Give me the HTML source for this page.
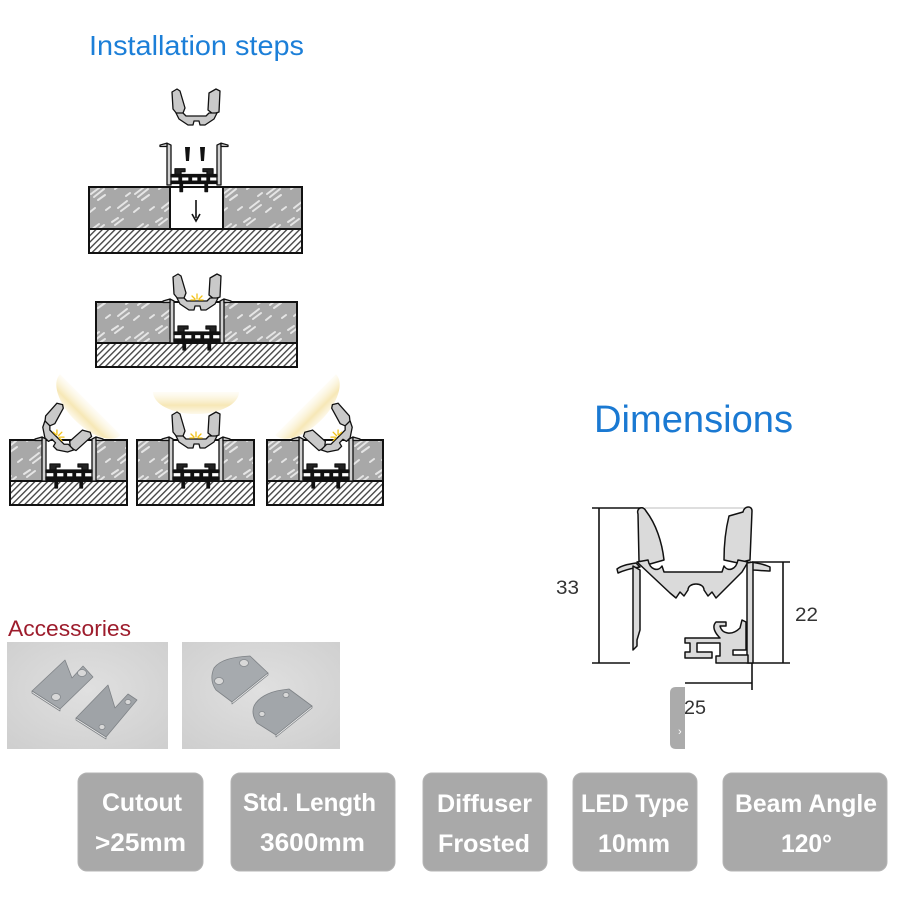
<!DOCTYPE html>
<html><head><meta charset="utf-8"><style>
html,body{margin:0;padding:0;background:#fff;}
svg{display:block;}
</style></head><body>
<svg width="900" height="900" viewBox="0 0 900 900" xmlns="http://www.w3.org/2000/svg" font-family="'Liberation Sans', Arial, sans-serif">
<defs>
 <pattern id="stone" width="44" height="36" patternUnits="userSpaceOnUse">
  <rect width="44" height="36" fill="#a8a8a8"/>
  <g stroke="#ececec" stroke-width="2" stroke-linecap="round" opacity="0.9">
   <path d="M3 14 l8 -6 M6 17 l10 -8 M10 20 l7 -5 M24 6 l6 -4 M27 9 l8 -6 M30 28 l9 -7 M33 31 l8 -6 M18 30 l4 -3 M38 16 l4 -3 M2 32 l5 -4"/>
  </g>
 </pattern>
 <pattern id="hatch" width="4.5" height="4.5" patternUnits="userSpaceOnUse" patternTransform="rotate(45)">
  <rect width="4.5" height="4.5" fill="#fff"/>
  <line x1="0.7" y1="0" x2="0.7" y2="4.5" stroke="#3a3a3a" stroke-width="1.3"/>
 </pattern>
 <linearGradient id="glowg" x1="0" y1="0" x2="0" y2="1">
  <stop offset="0" stop-color="#fbf3d6" stop-opacity="0.2"/>
  <stop offset="0.6" stop-color="#f6e6b2" stop-opacity="0.95"/>
  <stop offset="1" stop-color="#fdf8e8" stop-opacity="0.9"/>
 </linearGradient>
 <radialGradient id="photo" cx="0.5" cy="0.45" r="0.7">
  <stop offset="0" stop-color="#e0e0e0"/>
  <stop offset="1" stop-color="#cfcfcf"/>
 </radialGradient>

 <g id="hs" stroke="#111" stroke-width="1.3" stroke-linejoin="round">
  <path d="M0 -3 L0 41 L4 41 L4 -1 Z" fill="#d0d0d0"/>
  <path d="M54 -3 L54 41 L50 41 L50 -1 Z" fill="#d0d0d0"/>
  <path d="M0 -3 L-7 -1 L-7 0.5 L0 0.5 Z" fill="#d0d0d0"/>
  <path d="M54 -3 L61 -1 L61 0.5 L54 0.5 Z" fill="#d0d0d0"/>
  <path d="M8 30 L8 24 L18 24 L18 27 L14 27 L14 30 Z" fill="#222"/>
  <path d="M46 30 L46 24 L36 24 L36 27 L40 27 L40 30 Z" fill="#222"/>
  <rect x="4" y="30" width="46" height="2.5" fill="#111"/>
  <rect x="4" y="37" width="46" height="2.5" fill="#111"/>
  <rect x="12" y="32.5" width="2.5" height="4.5" fill="#111"/>
  <rect x="22" y="32.5" width="2.5" height="4.5" fill="#111"/>
  <rect x="31" y="32.5" width="2.5" height="4.5" fill="#111"/>
  <rect x="40" y="32.5" width="2.5" height="4.5" fill="#111"/>
  <rect x="13" y="40" width="2.5" height="8" fill="#111"/>
  <rect x="38" y="40" width="2.5" height="8" fill="#111"/>
 </g>
 <g id="df" stroke="#111" stroke-width="1.3" stroke-linejoin="round" fill="#c9c9c9">
  <path d="M3 -26 L8 -29 L11 -27 L16 -10 L14 -5 L8 -4 L4 -9 Z"/>
  <path d="M40 -25 L47 -29 L51 -27 L50 -6 L44 -4 L39 -8 Z"/>
  <path d="M7 -5 L14 -5 L17 -2 L37 -2 L40 -5 L48 -5 L45 1 L36 7 L31 7 L30 3 L25 3 L24 7 L19 7 L10 1 Z"/>
 </g>
 <g id="glow">
  <path d="M-16 -48 A43 22 0 0 0 70 -48 Z" fill="url(#glowg)"/>
 </g>
 <g id="star" stroke="#f2c21a" stroke-width="1.3" stroke-linecap="round">
  <path d="M27 -9 L27 -4 M22 -7 L25 -4 M32 -7 L29 -4 M21 -3 L25 -3 M33 -3 L29 -3"/>
 </g>
</defs>

<rect width="900" height="900" fill="#fff"/>

<text x="89" y="55" font-size="28" fill="#1c7fd8" textLength="215" lengthAdjust="spacingAndGlyphs">Installation steps</text>
<text x="594" y="432" font-size="38" fill="#1a79d2" textLength="199" lengthAdjust="spacingAndGlyphs">Dimensions</text>
<text x="8" y="636" font-size="22" fill="#9d1c2c" textLength="123" lengthAdjust="spacingAndGlyphs">Accessories</text>

<!-- STEP 1 -->
<rect x="89" y="187" width="213" height="42" fill="url(#stone)" stroke="#111" stroke-width="2"/>
<rect x="89" y="229" width="213" height="24" fill="url(#hatch)" stroke="#111" stroke-width="2"/>
<rect x="170" y="188" width="53" height="40" fill="#fff"/>
<line x1="170" y1="187" x2="170" y2="229" stroke="#111" stroke-width="2"/>
<line x1="223" y1="187" x2="223" y2="229" stroke="#111" stroke-width="2"/>
<line x1="196" y1="200" x2="196" y2="218" stroke="#111" stroke-width="1.6"/>
<path d="M192 214 L196 221 L200 214" fill="none" stroke="#111" stroke-width="1.6"/>
<g transform="translate(167,146) scale(1,0.95)"><use href="#hs"/></g>
<path d="M185 147 L190 147 L189 161 L186 161 Z M200 147 L205 147 L204 161 L201 161 Z" fill="#111"/>
<g transform="translate(169,118)"><use href="#df"/></g>

<!-- STEP 2 -->
<rect x="96" y="302" width="201" height="41" fill="url(#stone)" stroke="#111" stroke-width="2"/>
<rect x="96" y="343" width="201" height="24" fill="url(#hatch)" stroke="#111" stroke-width="2"/>
<rect x="170" y="303" width="53" height="39" fill="#fff"/>
<g transform="translate(170,302)"><use href="#hs"/></g>
<g transform="translate(170,303)"><use href="#df"/><use href="#star"/></g>

<!-- glows -->
<g transform="translate(43,440) rotate(45 22 -17)"><use href="#glow"/></g>
<g transform="translate(169,440)"><use href="#glow"/></g>
<g transform="translate(353,440) scale(-1,1) rotate(45 22 -17)"><use href="#glow"/></g>

<!-- slab 1 -->
<rect x="10" y="440" width="117" height="41" fill="url(#stone)" stroke="#111" stroke-width="2"/>
<rect x="10" y="481" width="117" height="24" fill="url(#hatch)" stroke="#111" stroke-width="2"/>
<rect x="43" y="441" width="53" height="39" fill="#fff"/>
<g transform="translate(42,440)"><use href="#hs"/></g>
<g transform="translate(42,440) rotate(45 22 -17)"><use href="#df"/><use href="#star"/></g>

<!-- slab 2 -->
<rect x="137" y="440" width="117" height="41" fill="url(#stone)" stroke="#111" stroke-width="2"/>
<rect x="137" y="481" width="117" height="24" fill="url(#hatch)" stroke="#111" stroke-width="2"/>
<rect x="169" y="441" width="53" height="39" fill="#fff"/>
<g transform="translate(169,440)"><use href="#hs"/></g>
<g transform="translate(169,441)"><use href="#df"/><use href="#star"/></g>

<!-- slab 3 -->
<rect x="267" y="440" width="116" height="41" fill="url(#stone)" stroke="#111" stroke-width="2"/>
<rect x="267" y="481" width="116" height="24" fill="url(#hatch)" stroke="#111" stroke-width="2"/>
<rect x="299" y="441" width="53" height="39" fill="#fff"/>
<g transform="translate(299,440)"><use href="#hs"/></g>
<g transform="translate(353,440) scale(-1,1) rotate(45 22 -17)"><use href="#df"/><use href="#star"/></g>

<!-- DIMENSIONS drawing -->
<line x1="645" y1="508" x2="745" y2="508" stroke="#bdbdbd" stroke-width="1"/>
<g stroke="#111" stroke-width="1.6" fill="none">
 <line x1="592" y1="508" x2="643" y2="508"/>
 <line x1="599" y1="508" x2="599" y2="663"/>
 <line x1="592" y1="663" x2="630" y2="663"/>
 <line x1="752" y1="562" x2="790" y2="562"/>
 <line x1="783" y1="562" x2="783" y2="663"/>
 <line x1="748" y1="663" x2="790" y2="663"/>
 <line x1="752" y1="640" x2="752" y2="690"/>
 <line x1="685" y1="683" x2="752" y2="683"/>
</g>
<g stroke="#111" stroke-width="1.5" stroke-linejoin="round" fill="#dadada">
 <path d="M638 514 C636 508 643 505 646 511 C656 524 662 542 664 560 L650 564 L639 561 Z"/>
 <path d="M743 512 C744 506 752 505 752 511 L750 560 L738 563 L724 560 C724 545 726 528 729 516 Z"/>
 <path d="M637 562 L648 560 C650 570 658 572 662 566 L664 572 L722 572 L724 566 C728 572 736 570 738 560 L748 562 L742 572 L722 592 L716 598 L712 592 L708 596 L704 590 C704 582 688 582 688 590 L684 596 L680 592 L676 598 L670 593 Z"/>
 <path d="M617 569 C622 565 630 564 636 563 L640 567 C633 568 625 570 618 573 Z"/>
 <path d="M750 562 C758 563 766 565 770 567 L770 571 C764 571 757 570 752 570 Z"/>
 <path d="M633 566 L633 650 L637 646 L637 640 L640 630 L640 570 Z"/>
 <path d="M747 563 L747 663 L753 663 L753 562 Z"/>
 <path d="M685 638 L720 638 C714 632 712 626 716 622 L726 622 L726 626 L720 626 C722 634 732 636 740 628 L742 620 L746 622 L746 650 L733 650 L733 655 L748 655 L748 663 L716 663 L716 656 L720 656 L720 643 L697 643 L697 652 L712 652 L712 658 L685 658 L685 652 L690 652 L690 643 L685 643 Z"/>
</g>
<g font-size="19" fill="#333">
 <text x="556" y="594" textLength="23" lengthAdjust="spacingAndGlyphs">33</text>
 <text x="795" y="621" textLength="23" lengthAdjust="spacingAndGlyphs">22</text>
 <text x="684" y="714" textLength="22" lengthAdjust="spacingAndGlyphs">25</text>
</g>
<path d="M685 687 L676 687 Q670 687 670 693 L670 743 Q670 749 676 749 L685 749 Z" fill="#ababab"/>
<text x="678" y="735" font-size="11" fill="#fff">›</text>

<!-- ACCESSORIES photos -->
<rect x="7" y="642" width="161" height="107" fill="url(#photo)"/>
<rect x="182" y="642" width="158" height="107" fill="url(#photo)"/>
<g stroke="#7e8286" stroke-width="0.8" stroke-linejoin="round">
 <path d="M32 691 L60 709 L93 677 L83 666 L72 678 L65 660 Z" fill="#a4a8ac"/>
 <path d="M32 691 L60 709 L60 711 L32 693 Z" fill="#eeeeee"/>
 <path d="M76 718 L106 737 L137 700 L128 694 L115 708 L108 685 Z" fill="#9fa3a7"/>
 <path d="M76 718 L106 737 L106 739 L76 720 Z" fill="#eeeeee"/>
 <path d="M214 668 C220 660 232 657 250 656 L268 673 L232 702 L216 690 C211 683 211 675 214 668 Z" fill="#a6aaae"/>
 <path d="M232 702 L268 673 L268 675 L232 704 Z" fill="#eeeeee"/>
 <path d="M254 706 C258 698 268 692 282 690 L289 689 L312 706 L276 735 L257 723 C253 717 252 711 254 706 Z" fill="#a2a6aa"/>
 <path d="M276 735 L312 706 L312 708 L276 737 Z" fill="#eeeeee"/>
</g>
<g fill="#d8d8d8" stroke="#85898d" stroke-width="0.8">
 <ellipse cx="82" cy="673" rx="4.5" ry="3.5"/>
 <ellipse cx="56" cy="697" rx="4.5" ry="3.5"/>
 <ellipse cx="128" cy="702" rx="3" ry="2.5"/>
 <ellipse cx="102" cy="727" rx="3" ry="2.5"/>
 <ellipse cx="244" cy="663" rx="4.5" ry="3.5"/>
 <ellipse cx="219" cy="681" rx="4.5" ry="3.5"/>
 <ellipse cx="286" cy="695" rx="3" ry="2.5"/>
 <ellipse cx="262" cy="714" rx="3" ry="2.5"/>
</g>

<!-- SPEC boxes -->
<g fill="#a9a9a9" stroke="#b4b4b4" stroke-width="1">
 <rect x="78" y="773" width="125" height="98" rx="9"/>
 <rect x="231" y="773" width="164" height="98" rx="9"/>
 <rect x="423" y="773" width="124" height="98" rx="9"/>
 <rect x="573" y="773" width="124" height="98" rx="9"/>
 <rect x="723" y="773" width="164" height="98" rx="9"/>
</g>
<g font-size="25" font-weight="bold" fill="#fff">
 <text x="102" y="811" textLength="80" lengthAdjust="spacingAndGlyphs">Cutout</text>
 <text x="95" y="851" textLength="91" lengthAdjust="spacingAndGlyphs">&gt;25mm</text>
 <text x="243" y="811" textLength="133" lengthAdjust="spacingAndGlyphs">Std. Length</text>
 <text x="260" y="851" textLength="105" lengthAdjust="spacingAndGlyphs">3600mm</text>
 <text x="437" y="812" textLength="95" lengthAdjust="spacingAndGlyphs">Diffuser</text>
 <text x="438" y="852" textLength="92" lengthAdjust="spacingAndGlyphs">Frosted</text>
 <text x="581" y="812" textLength="108" lengthAdjust="spacingAndGlyphs">LED Type</text>
 <text x="598" y="852" textLength="72" lengthAdjust="spacingAndGlyphs">10mm</text>
 <text x="735" y="812" textLength="142" lengthAdjust="spacingAndGlyphs">Beam Angle</text>
 <text x="781" y="852" textLength="51" lengthAdjust="spacingAndGlyphs">120°</text>
</g>
</svg>
</body></html>
